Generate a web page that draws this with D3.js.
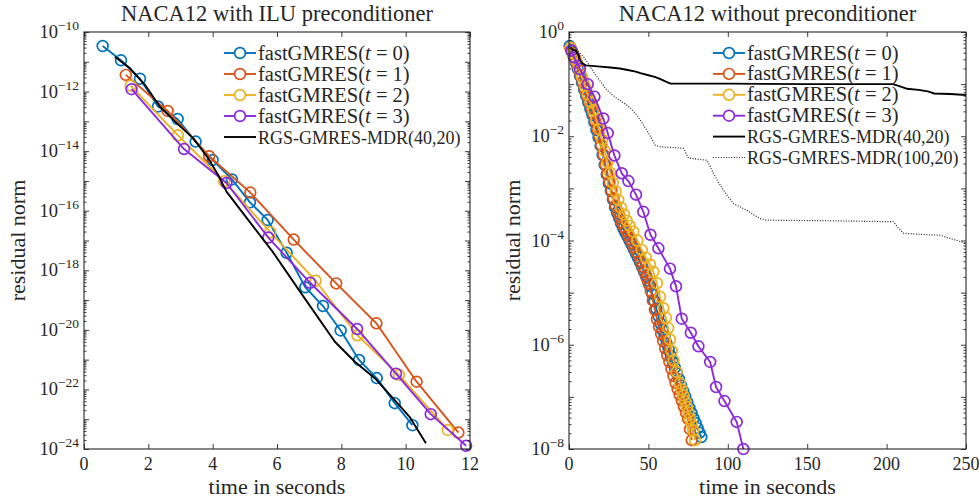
<!DOCTYPE html>
<html><head><meta charset="utf-8">
<script src="https://cdn.jsdelivr.net/npm/d3@7"></script>
<style>
body{margin:0;background:#fff}
svg{display:block}
text{font-family:"Liberation Serif","Times New Roman",serif;fill:#262626}
</style>
</head><body>
<svg id="c" width="979" height="502"></svg>
<script>
// ---------- DATA (time in seconds, log10 of residual norm) ----------
// Left panel: NACA12 with ILU preconditioner
const iluT0 = [[0.58,-10.47],[1.15,-10.95],[1.74,-11.57],[2.30,-12.50],[2.91,-12.92],[3.47,-13.68],[4.00,-14.30],[4.60,-14.95],[5.16,-15.72],[5.71,-16.31],[6.30,-17.41],[6.88,-18.57],[7.43,-19.20],[7.98,-20.02],[8.55,-21.01],[9.10,-21.62],[9.66,-22.46],[10.21,-23.20]];
const iluT1 = [[1.30,-11.44],[2.60,-12.65],[3.89,-14.17],[5.17,-15.39],[6.52,-16.97],[7.84,-18.44],[9.09,-19.78],[10.34,-21.74],[11.64,-23.45]];
const iluT2 = [[1.45,-11.80],[2.92,-13.47],[4.36,-15.01],[5.79,-16.72],[7.20,-18.35],[8.50,-20.18],[9.79,-21.51],[11.31,-23.36]];
const iluT3 = [[1.48,-11.92],[3.11,-13.93],[4.43,-15.07],[5.73,-16.90],[7.03,-18.42],[8.49,-19.97],[9.70,-21.47],[10.78,-22.83],[11.88,-23.89]];
const iluMDR40 = [[0.96,-10.83],[1.43,-11.22],[1.90,-11.78],[2.36,-12.51],[2.88,-13.06],[3.40,-13.57],[3.86,-14.24],[4.17,-14.80],[4.43,-15.36],[5.88,-17.40],[6.77,-18.80],[7.80,-20.40],[8.42,-21.07],[9.05,-21.63],[9.56,-22.24],[10.13,-22.93],[10.63,-23.81]];

// Right panel: NACA12 without preconditioner
const noT0 = [[0.4,-0.27],[1.7,-0.37],[3.0,-0.48],[4.3,-0.59],[5.6,-0.71],[6.9,-0.84],[8.2,-0.97],[9.5,-1.10],[10.8,-1.22],[12.1,-1.35],[13.4,-1.47],[14.7,-1.59],[16.0,-1.73],[17.3,-1.88],[18.6,-2.02],[19.9,-2.18],[21.2,-2.36],[22.5,-2.55],[23.8,-2.73],[25.1,-2.90],[26.4,-3.05],[27.7,-3.21],[29.0,-3.36],[30.3,-3.47],[31.6,-3.57],[32.9,-3.68],[34.2,-3.77],[35.5,-3.85],[36.8,-3.92],[38.1,-4.00],[39.4,-4.08],[40.7,-4.16],[42.0,-4.24],[43.3,-4.32],[44.6,-4.41],[45.9,-4.50],[47.2,-4.59],[48.5,-4.68],[49.8,-4.77],[51.1,-4.87],[52.4,-5.02],[53.7,-5.16],[55.0,-5.31],[56.3,-5.45],[57.6,-5.59],[58.9,-5.72],[60.2,-5.85],[61.5,-5.98],[62.8,-6.09],[64.1,-6.21],[65.4,-6.33],[66.7,-6.44],[68.0,-6.55],[69.3,-6.66],[70.6,-6.78],[71.9,-6.89],[73.2,-6.99],[74.5,-7.10],[75.8,-7.21],[77.1,-7.31],[78.4,-7.41],[79.7,-7.50],[81.0,-7.60],[82.2,-7.69],[83.3,-7.77]];
const noT1 = [[0.8,-0.30],[2.1,-0.40],[3.4,-0.48],[4.7,-0.58],[6.0,-0.70],[7.3,-0.83],[8.6,-0.96],[9.9,-1.09],[11.2,-1.21],[12.5,-1.33],[13.8,-1.44],[15.1,-1.56],[16.4,-1.71],[17.7,-1.85],[19.0,-1.99],[20.3,-2.17],[21.6,-2.35],[22.9,-2.54],[24.2,-2.72],[25.5,-2.88],[26.8,-3.04],[28.1,-3.19],[29.4,-3.33],[30.7,-3.44],[32.0,-3.54],[33.3,-3.65],[34.6,-3.74],[35.9,-3.81],[37.2,-3.89],[38.5,-3.97],[39.8,-4.05],[41.1,-4.13],[42.4,-4.21],[43.7,-4.28],[45.0,-4.39],[46.3,-4.50],[47.6,-4.61],[48.9,-4.72],[50.2,-4.83],[51.5,-4.97],[52.8,-5.15],[54.1,-5.33],[55.4,-5.51],[56.7,-5.65],[58.0,-5.79],[59.3,-5.93],[60.6,-6.07],[61.9,-6.20],[63.2,-6.33],[64.5,-6.46],[65.8,-6.60],[67.1,-6.73],[68.4,-6.85],[69.7,-6.96],[71.0,-7.07],[72.3,-7.18],[73.6,-7.30],[74.9,-7.42],[76.2,-7.62],[77.3,-7.83]];
const noT2 = [[1.0,-0.30],[2.8,-0.42],[4.6,-0.55],[6.4,-0.70],[8.2,-0.86],[10.0,-1.03],[11.8,-1.20],[13.6,-1.35],[15.4,-1.50],[17.2,-1.68],[19.0,-1.86],[20.8,-2.06],[22.5,-2.28],[24.2,-2.50],[25.9,-2.70],[27.6,-2.89],[29.3,-3.06],[31.0,-3.22],[32.8,-3.37],[34.6,-3.50],[36.4,-3.62],[38.2,-3.72],[40.5,-3.83],[43.0,-4.00],[45.8,-4.18],[48.4,-4.33],[51.0,-4.46],[53.1,-4.60],[55.3,-4.82],[57.3,-5.08],[59.4,-5.30],[61.0,-5.48],[62.4,-5.68],[63.6,-5.90],[64.7,-6.12],[65.8,-6.30],[67.8,-6.52],[69.9,-6.74],[71.0,-6.86],[72.0,-6.97],[73.1,-7.08],[74.2,-7.19],[75.2,-7.30],[76.2,-7.42],[77.3,-7.53],[78.3,-7.64],[79.4,-7.83]];
const noT3 = [[1.5,-0.35],[3.3,-0.49],[6.9,-0.71],[11.8,-1.00],[16.0,-1.24],[21.6,-1.66],[24.4,-1.94],[28.6,-2.37],[33.2,-2.71],[37.4,-2.86],[42.2,-3.12],[46.8,-3.45],[51.3,-3.89],[56.3,-4.15],[63.6,-4.54],[67.4,-4.88],[71.0,-5.50],[76.7,-5.77],[81.5,-6.03],[88.9,-6.33],[92.6,-6.81],[97.9,-7.08],[105.6,-7.48],[109.8,-8.00]];
const noMDR40 = [[0.8,-0.30],[2.5,-0.34],[4.5,-0.36],[6.0,-0.45],[7.0,-0.55],[8.5,-0.60],[10.5,-0.64],[18,-0.66],[26,-0.68],[32,-0.70],[37,-0.73],[42,-0.76],[45,-0.79],[50,-0.83],[54,-0.86],[58,-0.91],[61,-0.95],[64,-0.99],[100,-0.99],[150,-1.00],[204,-1.00],[208,-1.04],[213,-1.09],[220,-1.11],[226,-1.14],[230,-1.18],[240,-1.19],[250,-1.21]];
const noMDR100 = [[3.5,-0.30],[6,-0.38],[9,-0.47],[12,-0.60],[15.3,-0.76],[19,-0.92],[23.8,-1.11],[27,-1.20],[30.1,-1.27],[36.3,-1.40],[40,-1.50],[42.7,-1.59],[46,-1.74],[48.9,-1.88],[52,-2.04],[54.2,-2.17],[57.3,-2.20],[72,-2.23],[73.5,-2.32],[75.2,-2.42],[86.8,-2.46],[88.5,-2.55],[90.9,-2.71],[94,-2.88],[97.2,-3.03],[100,-3.15],[103.5,-3.29],[108,-3.36],[112,-3.42],[116,-3.50],[120.3,-3.58],[124.6,-3.61],[160,-3.62],[204.3,-3.64],[207,-3.75],[210.6,-3.86],[220,-3.88],[233.8,-3.90],[240,-3.96],[246.4,-4.02],[250,-4.06]];

// Tick values
const leftXTicks = [0,2,4,6,8,10,12];
const leftYLabelExps = [-24,-22,-20,-18,-16,-14,-12,-10];
const rightXTicks = [0,50,100,150,200,250];
const rightYLabelExps = [-8,-6,-4,-2,0];

// ---------- STYLE ----------
const INK = '#262626';
const C0 = '#0072BD', C1 = '#D95319', C2 = '#EDB120', C3 = '#8B2BD9';
const svg = d3.select('#c');

function panel(p){
  const g = svg.append('g');
  const x = d3.scaleLinear().domain(p.xDomain).range([p.left, p.right]);
  const y = d3.scaleLog().domain([Math.pow(10,p.yExp[0]), Math.pow(10,p.yExp[1])]).range([p.bottom, p.top]);

  // series
  p.series.forEach(s => {
    const pts = s.data.map(d => [x(d[0]), y(Math.pow(10, d[1]))]);
    g.append('path').attr('d', d3.line()(pts))
      .attr('fill','none').attr('stroke', s.color).attr('stroke-width', s.width)
      .attr('stroke-dasharray', s.dash || null).attr('stroke-linejoin','round');
    if (s.marker) {
      g.append('g').selectAll('circle').data(pts).enter().append('circle')
        .attr('cx', d => d[0]).attr('cy', d => d[1]).attr('r', 5.4)
        .attr('fill','none').attr('stroke', s.color).attr('stroke-width', 1.7);
    }
  });

  // axes ticks (inward, mirrored)
  const decades = d3.range(p.yExp[0], p.yExp[1] + 1).map(e => Math.pow(10, e));
  const minors = [];
  for (let e = p.yExp[0]; e < p.yExp[1]; e++) for (let m = 2; m <= 9; m++) minors.push(m * Math.pow(10, e));
  const ax = g.append('g').attr('color', INK);
  const clean = s => s.call(a => a.select('.domain').remove());
  ax.append('g').attr('transform', `translate(0,${p.bottom})`).call(d3.axisBottom(x).tickValues(p.xTicks).tickSize(-5).tickFormat('')).call(clean);
  ax.append('g').attr('transform', `translate(0,${p.top})`).call(d3.axisTop(x).tickValues(p.xTicks).tickSize(-5).tickFormat('')).call(clean);
  ax.append('g').attr('transform', `translate(${p.left},0)`).call(d3.axisLeft(y).tickValues(decades).tickSize(-5).tickFormat('')).call(clean);
  ax.append('g').attr('transform', `translate(${p.right},0)`).call(d3.axisRight(y).tickValues(decades).tickSize(-5).tickFormat('')).call(clean);
  ax.append('g').attr('transform', `translate(${p.left},0)`).call(d3.axisLeft(y).tickValues(minors).tickSize(-2.5).tickFormat('')).call(clean);
  ax.append('g').attr('transform', `translate(${p.right},0)`).call(d3.axisRight(y).tickValues(minors).tickSize(-2.5).tickFormat('')).call(clean);
  ax.selectAll('line').attr('stroke-width', 0.9);
  g.append('rect').attr('x', p.left).attr('y', p.top).attr('width', p.right - p.left).attr('height', p.bottom - p.top)
    .attr('fill','none').attr('stroke', INK).attr('stroke-width', 1.1);

  // tick labels
  g.append('g').selectAll('text').data(p.xTicks).enter().append('text')
    .attr('x', d => x(d)).attr('y', p.bottom + 21).attr('text-anchor','middle')
    .attr('font-size', 18).text(d => d);
  const yl = g.append('g').selectAll('text').data(p.yLabelExps).enter().append('text')
    .attr('x', p.left - 5).attr('y', d => y(Math.pow(10, d)) + 6).attr('text-anchor','end').attr('font-size', 18.5);
  yl.append('tspan').text('10');
  yl.append('tspan').attr('dy', -8).attr('font-size', 13.5).text(d => d === 0 ? '0' : '\u2212' + Math.abs(d));

  // axis titles
  g.append('text').attr('x', (p.left + p.right) / 2).attr('y', 494).attr('text-anchor','middle').attr('font-size', 22).text('time in seconds');
  g.append('text').attr('transform', `translate(${p.ylabX},${(p.top + p.bottom) / 2}) rotate(-90)`).attr('text-anchor','middle').attr('font-size', 22).text('residual norm');
  g.append('text').attr('x', (p.left + p.right) / 2).attr('y', 21).attr('text-anchor','middle').attr('font-size', 22.5).text(p.title);

  // legend
  p.series.forEach((s, i) => {
    const cy = p.legY + i * p.legStep;
    g.append('line').attr('x1', p.legX0).attr('x2', p.legX1).attr('y1', cy).attr('y2', cy)
      .attr('stroke', s.color).attr('stroke-width', s.width).attr('stroke-dasharray', s.dash || null);
    if (s.marker) g.append('circle').attr('cx', (p.legX0 + p.legX1) / 2).attr('cy', cy).attr('r', 5.4)
      .attr('fill','#fff').attr('stroke', s.color).attr('stroke-width', 1.7);
    const t = g.append('text').attr('x', p.legX1 + 2).attr('y', cy + 6.5);
    if (s.tval !== undefined) {
      t.attr('font-size', 20.5);
      t.append('tspan').text('fastGMRES(');
      t.append('tspan').attr('font-style','italic').text('t');
      t.append('tspan').text(' = ' + s.tval + ')');
    } else {
      t.attr('font-size', 18).text(s.name);
    }
  });
}

panel({
  title: 'NACA12 with ILU preconditioner',
  left: 84, right: 470, top: 32, bottom: 449,
  xDomain: [0, 12], yExp: [-24, -10],
  xTicks: leftXTicks, yLabelExps: leftYLabelExps, ylabX: 25,
  legX0: 224, legX1: 256, legY: 53, legStep: 21,
  series: [
    {data: iluT0, color: C0, width: 1.9, marker: true, tval: 0},
    {data: iluT1, color: C1, width: 1.9, marker: true, tval: 1},
    {data: iluT2, color: C2, width: 1.9, marker: true, tval: 2},
    {data: iluT3, color: C3, width: 1.9, marker: true, tval: 3},
    {data: iluMDR40, color: '#000', width: 1.9, name: 'RGS-GMRES-MDR(40,20)'}
  ]
});

panel({
  title: 'NACA12 without preconditioner',
  left: 569, right: 966, top: 32, bottom: 449,
  xDomain: [0, 250], yExp: [-8, 0],
  xTicks: rightXTicks, yLabelExps: rightYLabelExps, ylabX: 520,
  legX0: 713, legX1: 745, legY: 53, legStep: 20.9,
  series: [
    {data: noT0, color: C0, width: 1.9, marker: true, tval: 0},
    {data: noT1, color: C1, width: 1.9, marker: true, tval: 1},
    {data: noT2, color: C2, width: 1.9, marker: true, tval: 2},
    {data: noT3, color: C3, width: 1.9, marker: true, tval: 3},
    {data: noMDR40, color: '#000', width: 1.9, name: 'RGS-GMRES-MDR(40,20)'},
    {data: noMDR100, color: '#222', width: 1.2, dash: '1,1.6', name: 'RGS-GMRES-MDR(100,20)'}
  ]
});
</script>
</body></html>
